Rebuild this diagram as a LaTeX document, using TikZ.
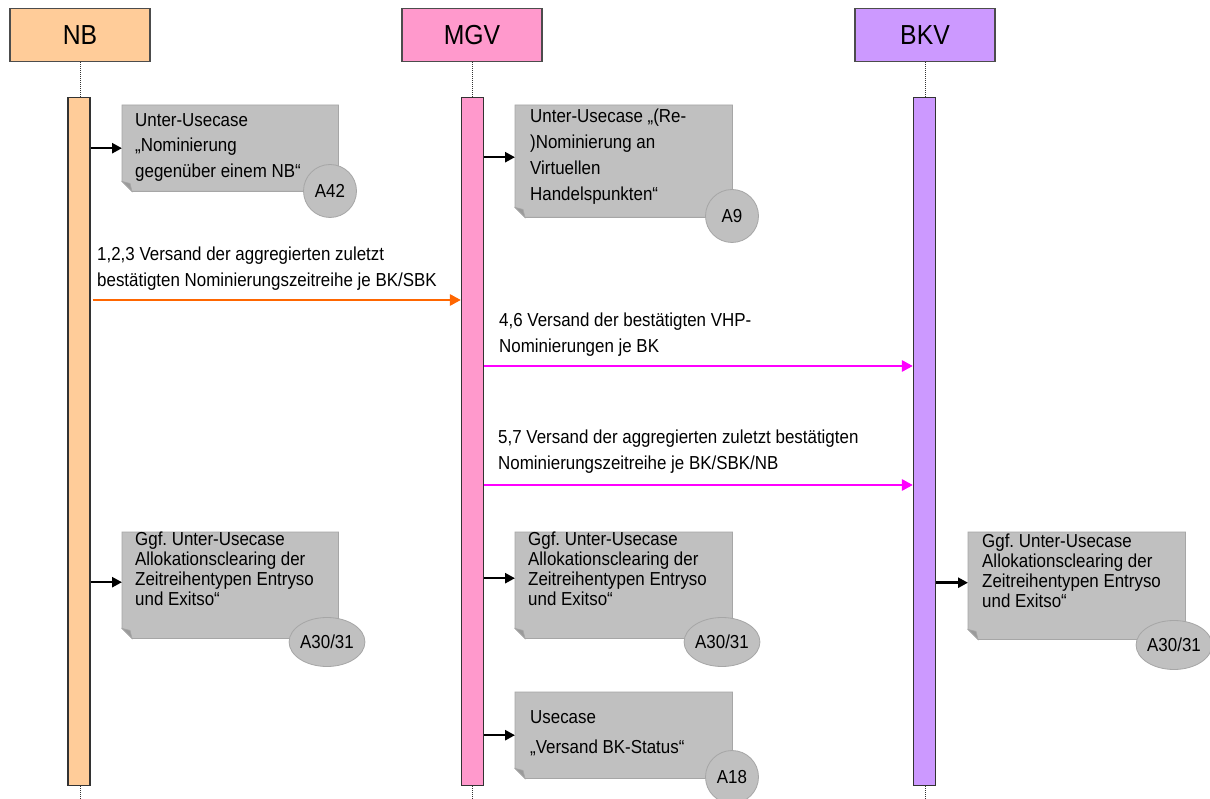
\documentclass[tikz,border=0pt]{standalone}
\usepackage{fontspec}
\setmainfont{Liberation Sans}[FakeStretch=0.9]
\usetikzlibrary{arrows.meta,shapes.geometric,calc}
\frenchspacing
\definecolor{nbcol}{HTML}{FFCC99}
\definecolor{mgvcol}{HTML}{FF99CC}
\definecolor{bkvcol}{HTML}{CC99FF}
\definecolor{notegray}{HTML}{C0C0C0}
\definecolor{noteline}{HTML}{A6A6A6}
\definecolor{folddark}{HTML}{9A9A9A}
\definecolor{msgorange}{HTML}{FF6600}
\definecolor{msgmag}{HTML}{FF00FF}
\tikzset{
  hdr/.style={draw=black!70, line width=1.2pt, minimum width=140pt, minimum height=53pt, inner sep=0pt,
    font=\fontsize{27.5pt}{30pt}\selectfont},
  lifebar/.style={draw=black!80, line width=1.2pt, minimum width=22pt, minimum height=688pt, inner sep=0pt, anchor=north},
  notebg/.style={inner sep=0pt, anchor=north west},
  notefill/.style={fill=notegray, draw=noteline, line width=0.8pt},
  foldflap/.style={fill=folddark, draw=noteline, line width=0.6pt},
  ntext/.style={inner sep=0pt, anchor=north west, align=left},
  tagc/.style={circle, fill=notegray, draw=noteline, line width=0.8pt, inner sep=0pt, minimum size=53pt,
    font=\fontsize{18.8pt}{20pt}\selectfont},
  tage/.style={ellipse, fill=notegray, draw=noteline, line width=0.8pt, inner sep=0pt, minimum width=63pt, minimum height=49pt,
    font=\fontsize{18.8pt}{20pt}\selectfont},
  lbl/.style={inner sep=0pt, anchor=north west, align=left, font=\fontsize{18.8pt}{26pt}\selectfont},
  lifedot/.style={densely dotted, draw=black!80, line width=1pt},
  callarrow/.style={line width=2.5pt, -{Triangle[length=10pt,width=10pt]}},
  msgo/.style={draw=msgorange, line width=2.8pt, -{Triangle[length=11pt,width=11pt]}},
  msgm/.style={draw=msgmag, line width=2.8pt, -{Triangle[length=11pt,width=11pt]}},
}
\newcommand{\drawnote}[1]{%
  \path[notefill] (#1.north west) -- (#1.north east) -- (#1.south east) -- ([xshift=10pt]#1.south west) -- ([yshift=10pt]#1.south west) -- cycle;
  \path[foldflap] ([yshift=10pt]#1.south west) -- ([xshift=10pt]#1.south west) -- ([xshift=8pt,yshift=8pt]#1.south west) -- cycle;
}
\begin{document}
\begin{tikzpicture}[x=1pt,y=-1pt]
\frenchspacing
\useasboundingbox (0,0) rectangle (1210,799);
\fill[white] (0,0) rectangle (1210,799);

% headers
\node[hdr, fill=nbcol] (nb) at (80,35) {NB};
\node[hdr, fill=mgvcol] (mgv) at (472,35) {MGV};
\node[hdr, fill=bkvcol] (bkv) at (925,35) {BKV};

% lifeline bars
\node[lifebar, fill=nbcol] (nbbar) at (79,97) {};
\node[lifebar, fill=mgvcol] (mgvbar) at (472.5,97) {};
\node[lifebar, fill=bkvcol] (bkvbar) at (924.5,97) {};

\coordinate (nbend) at (80,799);
\coordinate (mgvend) at (472,799);
\coordinate (bkvend) at (925,799);
\draw[lifedot] (nb.south) -- (nb.south |- nbbar.north);
\draw[lifedot] (mgv.south) -- (mgv.south |- mgvbar.north);
\draw[lifedot] (bkv.south) -- (bkv.south |- bkvbar.north);
\draw[lifedot] (nb.south |- nbbar.south) -- (nbend);
\draw[lifedot] (mgv.south |- mgvbar.south) -- (mgvend);
\draw[lifedot] (bkv.south |- bkvbar.south) -- (bkvend);

% note backgrounds
\node[notebg, minimum width=216pt, minimum height=86pt] (n1) at (122,105) {};
\node[notebg, minimum width=217pt, minimum height=112pt] (n2) at (515,105) {};
\node[notebg, minimum width=216pt, minimum height=106pt] (n3) at (122,532) {};
\node[notebg, minimum width=217pt, minimum height=106pt] (n4) at (515,532) {};
\node[notebg, minimum width=217pt, minimum height=107pt] (n5) at (968,532) {};
\node[notebg, minimum width=217pt, minimum height=86pt] (n6) at (515,692) {};
\drawnote{n1}
\drawnote{n2}
\drawnote{n3}
\drawnote{n4}
\drawnote{n5}
\drawnote{n6}

% note texts
\node[ntext, font=\fontsize{18.8pt}{25.5pt}\selectfont] (t1) at (135,113) {Unter-Usecase\\„Nominierung\\gegenüber einem NB“};
\node[ntext, font=\fontsize{18.8pt}{26pt}\selectfont] (t2) at (530,109) {Unter-Usecase „(Re-\\)Nominierung an\\Virtuellen\\Handelspunkten“};
\node[ntext, font=\fontsize{18.8pt}{20pt}\selectfont] (t3) at (135,532) {Ggf. Unter-Usecase\\Allokationsclearing der\\Zeitreihentypen Entryso\\und Exitso“};
\node[ntext, font=\fontsize{18.8pt}{20pt}\selectfont] (t4) at (528,532) {Ggf. Unter-Usecase\\Allokationsclearing der\\Zeitreihentypen Entryso\\und Exitso“};
\node[ntext, font=\fontsize{18.8pt}{20pt}\selectfont] (t5) at (982,534) {Ggf. Unter-Usecase\\Allokationsclearing der\\Zeitreihentypen Entryso\\und Exitso“};
\node[ntext, font=\fontsize{18.8pt}{30pt}\selectfont] (t6) at (530,710) {Usecase\\„Versand BK-Status“};

% tags
\node[tagc] (c1) at (330,191) {A42};
\node[tagc] (c2) at (732,216) {A9};
\node[tage] (c3) at (327,642) {A30/31};
\node[tage] (c4) at (722,642) {A30/31};
\node[tage] (c5) at (1174,645) {A30/31};
\node[tagc] (c6) at (732,777) {A18};

% call arrows to notes
\draw[callarrow] (nbbar.east |- n1.west) -- (n1.west);
\draw[callarrow] ([yshift=4pt]mgvbar.east |- n2.west) -- ([yshift=4pt]n2.west);
\draw[callarrow] ([yshift=3pt]nbbar.east |- n3.west) -- ([yshift=3pt]n3.west);
\draw[callarrow] ([yshift=7pt]mgvbar.east |- n4.west) -- ([yshift=7pt]n4.west);
\draw[callarrow] ([yshift=3pt]bkvbar.east |- n5.west) -- ([yshift=3pt]n5.west);
\draw[callarrow] (mgvbar.east |- n6.west) -- (n6.west);

% messages
\coordinate (m1) at (0,300);
\coordinate (m2) at (0,366);
\coordinate (m3) at (0,485);
\draw[msgo] ([xshift=2pt]nbbar.east |- m1) -- (mgvbar.west |- m1);
\draw[msgm] (mgvbar.east |- m2) -- (bkvbar.west |- m2);
\draw[msgm] (mgvbar.east |- m3) -- (bkvbar.west |- m3);

\node[lbl] (l1) at (97,246.5) {1,2,3 Versand der aggregierten zuletzt\\bestätigten Nominierungszeitreihe je BK/SBK};
\node[lbl] (l2) at (499,312.5) {4,6 Versand der bestätigten VHP-\\Nominierungen je BK};
\node[lbl] (l3) at (498,429.5) {5,7 Versand der aggregierten zuletzt bestätigten\\Nominierungszeitreihe je BK/SBK/NB};
\end{tikzpicture}
\end{document}
